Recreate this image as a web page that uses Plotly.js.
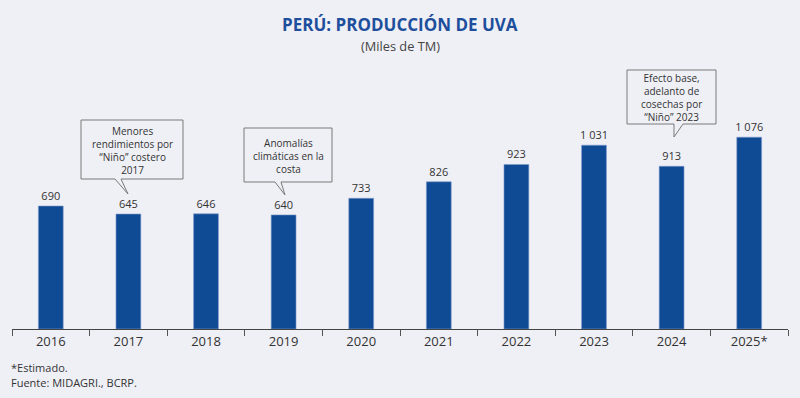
<!DOCTYPE html>
<html>
<head>
<meta charset="utf-8">
<script src="https://cdn.plot.ly/plotly-3.0.1.min.js"></script>
<style>
html,body{margin:0;padding:0;background:#eff0f6;}
#chart{width:800px;height:398px;}
</style>
</head>
<body>
<div id="chart"></div>
<script>
const years = ["2016","2017","2018","2019","2020","2021","2022","2023","2024","2025*"];
const production = [690, 645, 646, 640, 733, 826, 923, 1031, 913, 1076];
const calloutTexts = [
  "Menores<br>rendimientos por<br>“Niño” costero<br>2017",
  "Anomalías<br>climáticas en la<br>costa",
  "Efecto base,<br>adelanto de<br>cosechas por<br>“Niño” 2023"
];

const W = 800, H = 398;
const M = {l: 12, r: 12, t: 60, b: 69};
const PW = W - M.l - M.r, PH = H - M.t - M.b;
const px = x => (x - M.l) / PW;
const py = y => (H - M.b - y) / PH;
const FONT = "Open Sans, Noto Sans, sans-serif";

// callout geometry in pixels: box [x0,x1,y0,y1], tail [baseL, baseR, tipX, tipY]
const callouts = [
  {box: [81, 183, 120, 179], tail: [115, 121, 128, 194]},
  {box: [244, 332, 128, 182], tail: [275, 281, 285, 195]},
  {box: [627, 716, 70, 124], tail: [674, 683, 674, 137]}
];

const shapes = [];
const annotations = [];
callouts.forEach((c, i) => {
  const [x0, x1, y0, y1] = c.box;
  const [bl, br, tx, ty] = c.tail;
  const P = (x, y) => px(x).toFixed(5) + "," + py(y).toFixed(5);
  const path = "M" + P(x0, y0) + " L" + P(x1, y0) + " L" + P(x1, y1) + " L" + P(br, y1) +
               " L" + P(tx, ty) + " L" + P(bl, y1) + " L" + P(x0, y1) + " Z";
  shapes.push({type: "path", xref: "paper", yref: "paper", path: path,
    fillcolor: "#eff0f6", line: {color: "#7a7a7a", width: 1}, layer: "above"});
  annotations.push({xref: "paper", yref: "paper", x: px((x0 + x1) / 2), y: py((y0 + y1) / 2 + 0.5),
    xanchor: "center", yanchor: "middle", text: calloutTexts[i], showarrow: false,
    font: {family: FONT, size: 10, color: "#333"}, align: "center"});
});

annotations.push({xref: "paper", yref: "paper", x: 0.5, y: py(24), xanchor: "center", yanchor: "middle",
  text: "<b>PERÚ: PRODUCCIÓN DE UVA</b>", showarrow: false,
  font: {family: FONT, size: 17, color: "#1d4f9c"}});
annotations.push({xref: "paper", yref: "paper", x: 0.5, y: py(46), xanchor: "center", yanchor: "middle",
  text: "(Miles de TM)", showarrow: false,
  font: {family: FONT, size: 12.8, color: "#444"}});
annotations.push({xref: "paper", yref: "paper", x: px(9), y: py(367), xanchor: "left", yanchor: "middle",
  text: "*Estimado.", showarrow: false, font: {family: FONT, size: 11, color: "#333"}});
annotations.push({xref: "paper", yref: "paper", x: px(9), y: py(382), xanchor: "left", yanchor: "middle",
  text: "Fuente: MIDAGRI., BCRP.", showarrow: false, font: {family: FONT, size: 11, color: "#333"}});

const trace = {
  type: "bar", x: years, y: production, width: 0.32,
  marker: {color: "#0f4a94", line: {color: "#7f9ccc", width: 0.6}},
  texttemplate: "%{y:,}", textposition: "outside", cliponaxis: false, constraintext: "none",
  textfont: {family: FONT, size: 11, color: "#333"},
  hoverinfo: "x+y"
};

const layout = {
  width: W, height: H,
  margin: M,
  paper_bgcolor: "#eff0f6", plot_bgcolor: "#eff0f6",
  separators: ", ",
  showlegend: false,
  xaxis: {type: "category", tickson: "boundaries", ticks: "outside", ticklen: 6, tickwidth: 1,
    tickcolor: "#555", showline: true, linecolor: "#444", linewidth: 1, showgrid: false,
    tickfont: {family: FONT, size: 13, color: "#333"}, fixedrange: true},
  yaxis: {range: [0, PH / 0.17826], visible: false, showgrid: false, zeroline: false, fixedrange: true},
  shapes: shapes,
  annotations: annotations
};

Plotly.newPlot("chart", [trace], layout, {displayModeBar: false, staticPlot: true});
</script>
</body>
</html>
